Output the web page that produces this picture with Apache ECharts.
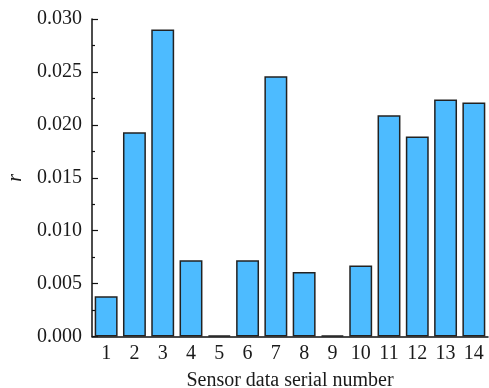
<!DOCTYPE html>
<html><head><meta charset="utf-8">
<script src="https://cdn.jsdelivr.net/npm/echarts@6/dist/echarts.min.js"></script>
<style>html,body{margin:0;padding:0;background:#fff}#c{width:489px;height:388px}</style>
</head><body><div id="c"></div>
<script>
var categories = ['1','2','3','4','5','6','7','8','9','10','11','12','13','14'];
var rValues = [0.0038, 0.0193, 0.0290, 0.0072, 0.0001, 0.0072, 0.0246, 0.0061, 0.0001, 0.0067, 0.0209, 0.0189, 0.0224, 0.0221];
var yTicks = { min: 0, max: 0.030, interval: 0.005 };
var xName = 'Sensor data serial number';
var yName = 'r';

var font = 'Liberation Serif';
var chart = echarts.init(document.getElementById('c'), null, {renderer: 'canvas'});
chart.setOption({
  animation: false,
  grid: { left: 92, right: 1, top: 19, bottom: 51.5, containLabel: false, outerBoundsMode: 'none' },
  xAxis: [{
    type: 'category', data: categories, position: 'bottom',
    name: xName, nameLocation: 'middle', nameGap: 34,
    nameTextStyle: { fontFamily: font, fontSize: 20, color: '#1a1a1a' },
    axisLine: { lineStyle: { color: '#111', width: 1.5 } },
    axisTick: { inside: true, alignWithLabel: true, length: 5, lineStyle: { color: '#111', width: 1.2 } },
    axisLabel: { fontFamily: font, fontSize: 20, color: '#1a1a1a', margin: 7 }
  }, {
    type: 'category', data: categories, position: 'bottom', gridIndex: 0,
    axisLine: { show: false },
    axisTick: { inside: true, alignWithLabel: false, length: 3, lineStyle: { color: '#111', width: 1.2 } },
    axisLabel: { show: false }
  }],
  yAxis: {
    type: 'value', min: yTicks.min, max: yTicks.max, interval: yTicks.interval,
    name: yName, nameLocation: 'middle', nameGap: 63, nameRotate: 90,
    nameTextStyle: { fontFamily: font, fontSize: 20, fontStyle: 'italic', color: '#1a1a1a' },
    axisLine: { show: true, lineStyle: { color: '#111', width: 1.5 } },
    axisTick: { show: true, inside: true, length: 6, lineStyle: { color: '#111', width: 1.2 } },
    minorTick: { show: true, splitNumber: 2, length: 3, lineStyle: { color: '#111', width: 1.2 } },
    splitLine: { show: false },
    axisLabel: { fontFamily: font, fontSize: 20, color: '#1a1a1a', margin: 10,
      formatter: function (v) { return v.toFixed(3); } }
  },
  series: [{
    type: 'bar', data: rValues, xAxisIndex: 0, barCategoryGap: '19%',
    itemStyle: { color: '#4DBBFF', borderColor: '#222', borderWidth: 1.5 }
  }]
});
</script></body></html>
